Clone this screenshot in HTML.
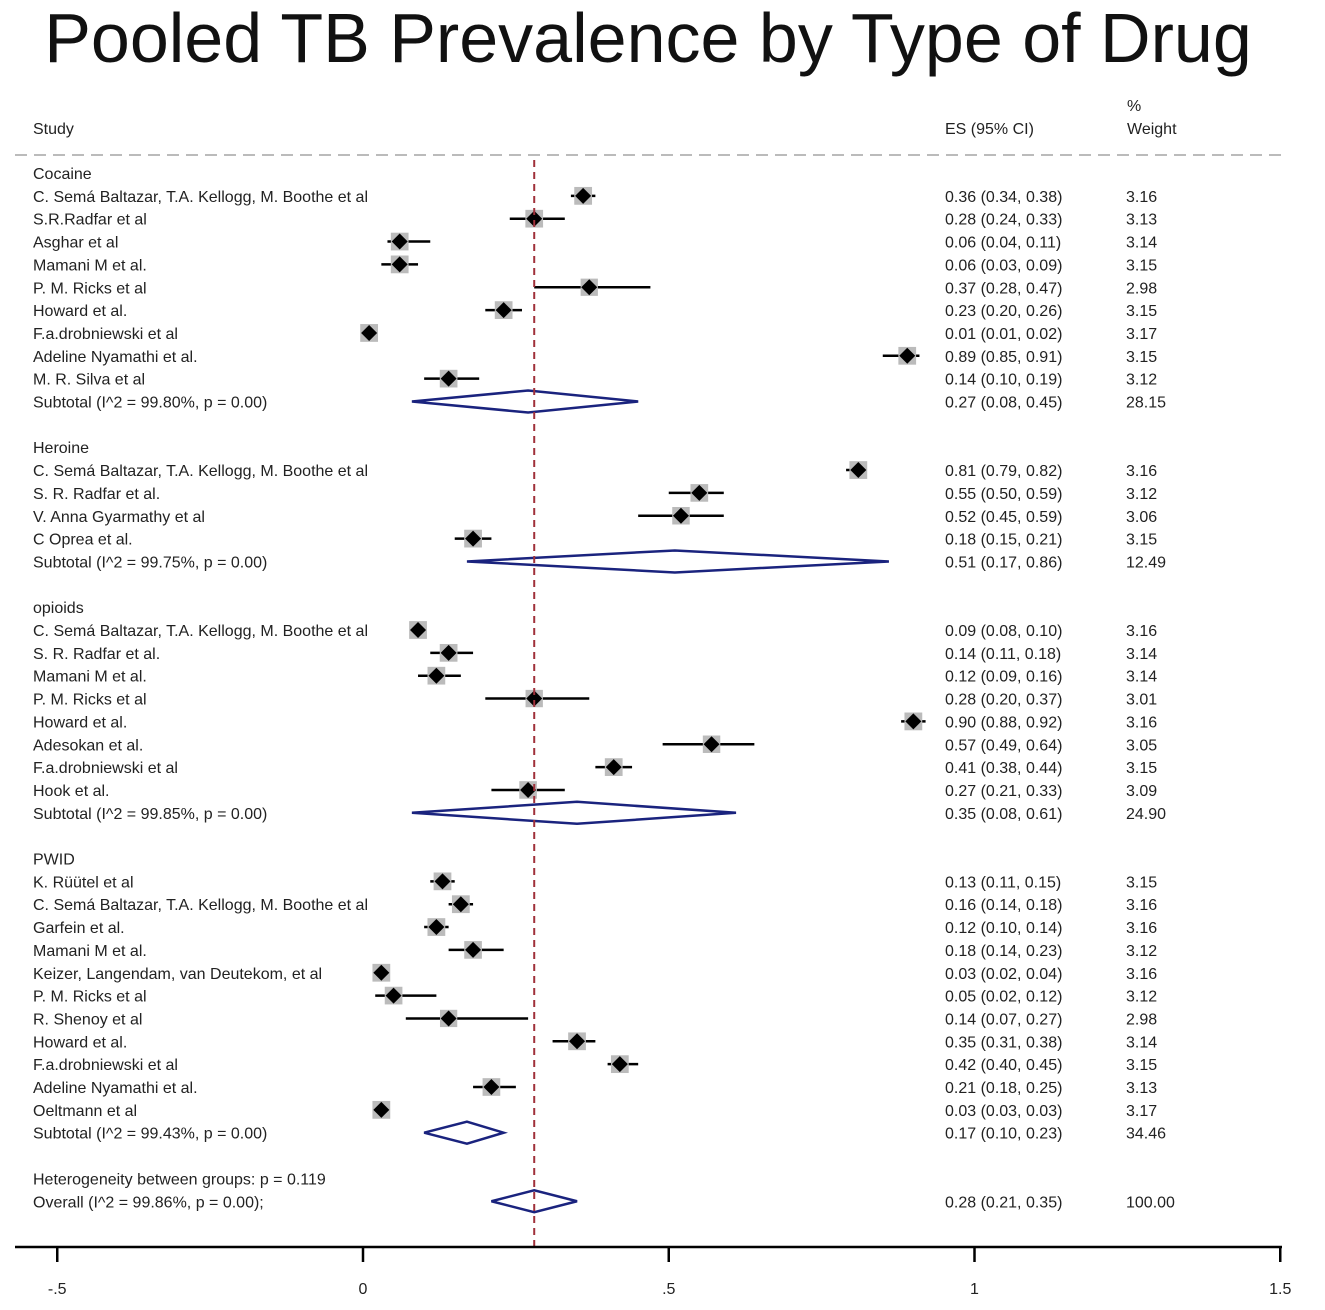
<!DOCTYPE html>
<html><head><meta charset="utf-8"><style>
body{margin:0;background:#fff;}
svg{display:block;font-family:"Liberation Sans",sans-serif;}
</style></head><body>
<svg id="c" width="1325" height="1310" xmlns="http://www.w3.org/2000/svg">
<text x="648" y="62" font-size="70" text-anchor="middle" fill="#111">Pooled TB Prevalence by Type of Drug</text>
<text x="33" y="134" font-size="16" fill="#222">Study</text>
<text x="945" y="134" font-size="16" fill="#222">ES (95% CI)</text>
<text x="1127" y="111" font-size="16" fill="#222">%</text>
<text x="1127" y="134" font-size="16" fill="#222">Weight</text>
<line x1="15" y1="155" x2="1282" y2="155" stroke="#bbb" stroke-width="2" stroke-dasharray="12,7"/>
<g id="rows"></g>
<g id="axis"></g>
</svg>
<script>
const groups=["Cocaine","Heroine","opioids","PWID"];
const studies=[
["C. Semá Baltazar, T.A. Kellogg, M. Boothe et al","S.R.Radfar et al","Asghar et al","Mamani M et al.","P. M. Ricks et al","Howard et al.","F.a.drobniewski et al","Adeline Nyamathi et al.","M. R. Silva et al"],
["C. Semá Baltazar, T.A. Kellogg, M. Boothe et al","S. R. Radfar et al.","V. Anna Gyarmathy et al","C Oprea et al."],
["C. Semá Baltazar, T.A. Kellogg, M. Boothe et al","S. R. Radfar et al.","Mamani M et al.","P. M. Ricks et al","Howard et al.","Adesokan et al.","F.a.drobniewski et al","Hook et al."],
["K. Rüütel et al","C. Semá Baltazar, T.A. Kellogg, M. Boothe et al","Garfein et al.","Mamani M et al.","Keizer, Langendam, van Deutekom, et al","P. M. Ricks et al","R. Shenoy et al","Howard et al.","F.a.drobniewski et al","Adeline Nyamathi et al.","Oeltmann et al"]];
const es=[[0.36,0.28,0.06,0.06,0.37,0.23,0.01,0.89,0.14],[0.81,0.55,0.52,0.18],[0.09,0.14,0.12,0.28,0.90,0.57,0.41,0.27],[0.13,0.16,0.12,0.18,0.03,0.05,0.14,0.35,0.42,0.21,0.03]];
const lo=[[0.34,0.24,0.04,0.03,0.28,0.20,0.01,0.85,0.10],[0.79,0.50,0.45,0.15],[0.08,0.11,0.09,0.20,0.88,0.49,0.38,0.21],[0.11,0.14,0.10,0.14,0.02,0.02,0.07,0.31,0.40,0.18,0.03]];
const hi=[[0.38,0.33,0.11,0.09,0.47,0.26,0.02,0.91,0.19],[0.82,0.59,0.59,0.21],[0.10,0.18,0.16,0.37,0.92,0.64,0.44,0.33],[0.15,0.18,0.14,0.23,0.04,0.12,0.27,0.38,0.45,0.25,0.03]];
const weights=[[3.16,3.13,3.14,3.15,2.98,3.15,3.17,3.15,3.12],[3.16,3.12,3.06,3.15],[3.16,3.14,3.14,3.01,3.16,3.05,3.15,3.09],[3.15,3.16,3.16,3.12,3.16,3.12,2.98,3.14,3.15,3.13,3.17]];
const subI2=["99.80%","99.75%","99.85%","99.43%"];
const subES=[0.27,0.51,0.35,0.17],subLo=[0.08,0.17,0.08,0.10],subHi=[0.45,0.86,0.61,0.23],subW=["28.15","12.49","24.90","34.46"];
const overall=[0.28,0.21,0.35];
const ticks=[-0.5,0,0.5,1,1.5],tickLabels=["-.5","0",".5","1","1.5"];
const NS="http://www.w3.org/2000/svg";
const X=v=>363+611.5*v, Y=i=>173+22.85*i;
const rows=document.getElementById('rows'),axis=document.getElementById('axis');
function mk(p,tag,a,txt){const e=document.createElementNS(NS,tag);for(const k in a)e.setAttribute(k,a[k]);if(txt!==undefined)e.textContent=txt;p.appendChild(e);return e;}
const f2=v=>v.toFixed(2);
function txt(x,y,s,name){const t=mk(rows,'text',{x:x,y:y+6,'font-size':16,fill:'#222'},s);

}
function dia(e,l,h,y,name,color){const d=mk(rows,'polygon',{points:`${X(l)},${y} ${X(e)},${y-11} ${X(h)},${y} ${X(e)},${y+11}`,fill:'none',stroke:color,'stroke-width':2.5});

}
let i=0;
groups.forEach((g,gi)=>{
 txt(33,Y(i),g,'group-label-'+g.toLowerCase());i++;
 studies[gi].forEach((s,si)=>{const y=Y(i);
  txt(33,y,s,'study-label');
  const ln=mk(rows,'line',{x1:X(lo[gi][si]),x2:X(hi[gi][si]),y1:y,y2:y,stroke:'#000','stroke-width':2.5});
  
  
  const w=10*Math.sqrt(weights[gi][si]);
  const b=mk(rows,'rect',{x:X(es[gi][si])-w/2,y:y-w/2,width:w,height:w,fill:'#bbb'});
  
  
  const d=mk(rows,'polygon',{points:`${X(es[gi][si])-8},${y} ${X(es[gi][si])},${y-8} ${X(es[gi][si])+8},${y} ${X(es[gi][si])},${y+8}`,fill:'#000'});
  
  
  txt(945,y,`${f2(es[gi][si])} (${f2(lo[gi][si])}, ${f2(hi[gi][si])})`,'es-value');
  txt(1126,y,f2(weights[gi][si]),'weight-value');
  i++;});
 const y=Y(i);
 txt(33,y,`Subtotal  (I^2 = ${subI2[gi]}, p = 0.00)`,'subtotal-label');
 dia(subES[gi],subLo[gi],subHi[gi],y,'subtotal-diamond','#1a237e');
 txt(945,y,`${f2(subES[gi])} (${f2(subLo[gi])}, ${f2(subHi[gi])})`,'subtotal-es');
 txt(1126,y,subW[gi],'subtotal-weight');
 i+=2;
});
txt(33,Y(i),'Heterogeneity between groups: p = 0.119','heterogeneity-label');i++;
txt(33,Y(i),'Overall  (I^2 = 99.86%, p = 0.00);','overall-label');
dia(overall[0],overall[1],overall[2],Y(i),'overall-diamond','#1a237e');
txt(945,Y(i),`${f2(overall[0])} (${f2(overall[1])}, ${f2(overall[2])})`,'overall-es');
txt(1126,Y(i),'100.00','overall-weight');
const ref=mk(rows,'line',{x1:X(overall[0]),x2:X(overall[0]),y1:160,y2:1247,stroke:'#a0303a','stroke-width':2,'stroke-dasharray':'7,5'});


const al=mk(axis,'line',{x1:15,x2:1282,y1:1247,y2:1247,stroke:'#000','stroke-width':2.5});


ticks.forEach((t,k)=>{
 const tl=mk(axis,'line',{x1:X(t),x2:X(t),y1:1247,y2:1262,stroke:'#000','stroke-width':2.5});
 
 
 const lb=mk(axis,'text',{x:X(t),y:1294,'font-size':16,'text-anchor':'middle',fill:'#222'},tickLabels[k]);
 
 
});
</script>
</body></html>
